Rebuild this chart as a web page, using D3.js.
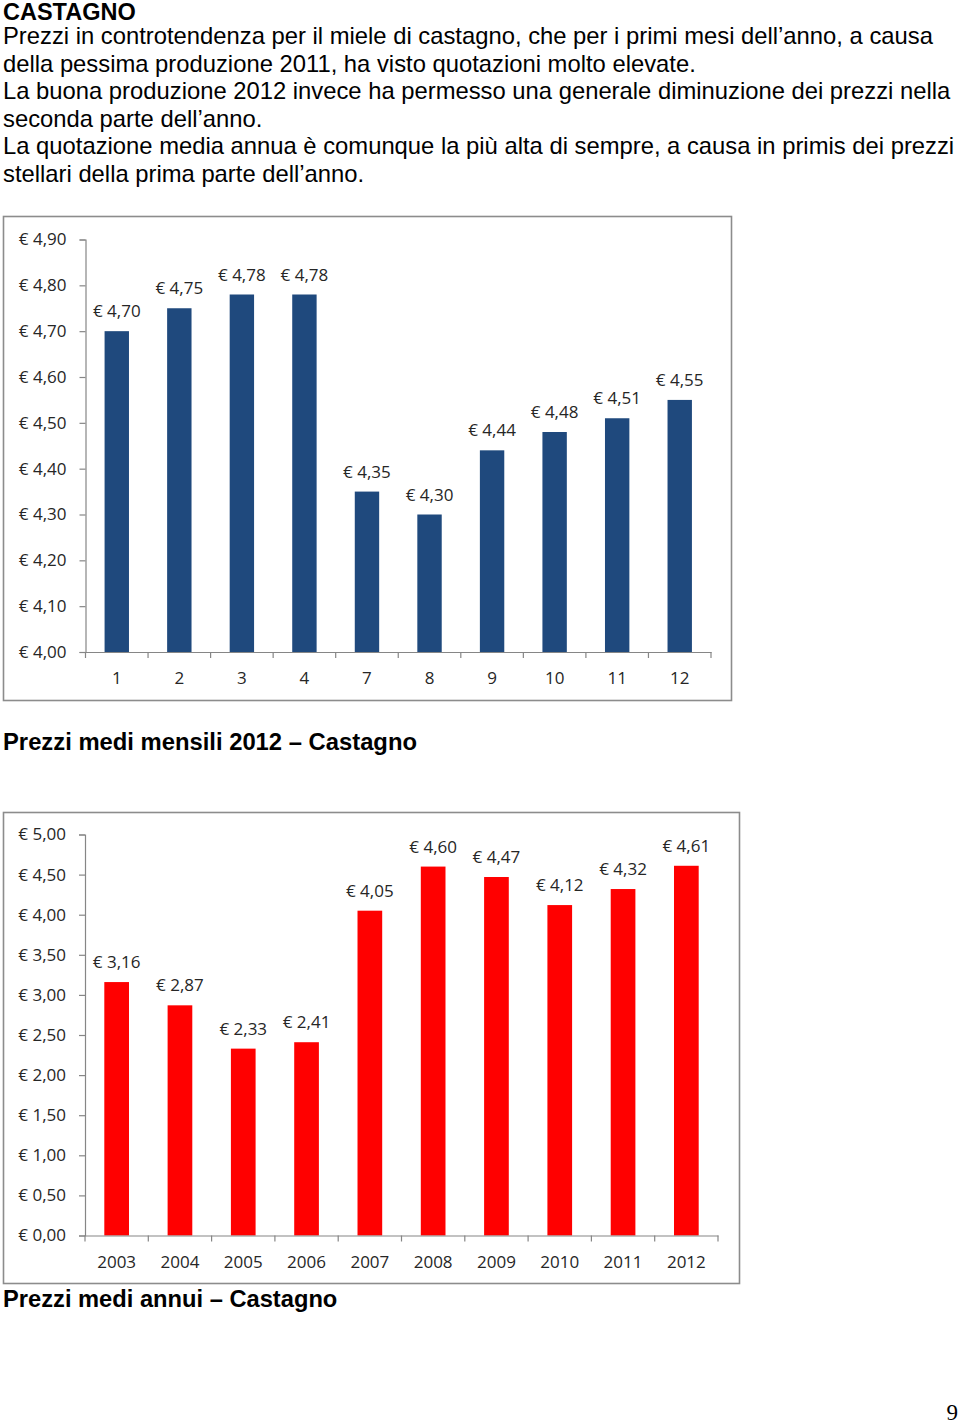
<!DOCTYPE html>
<html>
<head>
<meta charset="utf-8">
<script src="https://cdn.jsdelivr.net/npm/d3@7"></script>
<style>
html,body{margin:0;padding:0;background:#fff;}
svg{display:block;}
</style>
</head>
<body>
<svg id="page" width="960" height="1425"></svg>
<script>
// ---------- data ----------
const monthCategories = ["1","2","3","4","7","8","9","10","11","12"];
const monthValues = [4.70, 4.75, 4.78, 4.78, 4.35, 4.30, 4.44, 4.48, 4.51, 4.55];
const monthTicks = [4.00, 4.10, 4.20, 4.30, 4.40, 4.50, 4.60, 4.70, 4.80, 4.90];

const yearCategories = ["2003","2004","2005","2006","2007","2008","2009","2010","2011","2012"];
const yearValues = [3.16, 2.87, 2.33, 2.41, 4.05, 4.60, 4.47, 4.12, 4.32, 4.61];
const yearTicks = [0.00, 0.50, 1.00, 1.50, 2.00, 2.50, 3.00, 3.50, 4.00, 4.50, 5.00];

const titleText = "CASTAGNO";
const bodyLines = [
  "Prezzi in controtendenza per il miele di castagno, che per i primi mesi dell\u2019anno, a causa",
  "della pessima produzione 2011, ha visto quotazioni molto elevate.",
  "La buona produzione 2012 invece ha permesso una generale diminuzione dei prezzi nella",
  "seconda parte dell\u2019anno.",
  "La quotazione media annua \u00e8 comunque la pi\u00f9 alta di sempre, a causa in primis dei prezzi",
  "stellari della prima parte dell\u2019anno."
];
const caption1 = "Prezzi medi mensili 2012 \u2013 Castagno";
const caption2 = "Prezzi medi annui \u2013 Castagno";
const pageNumber = "9";

// ---------- page ----------
const svg = d3.select("#page");
svg.append("rect").attr("width",960).attr("height",1425).attr("fill","#fff");

const textFont = "'Liberation Sans', Arial, Helvetica, sans-serif";
const chartFont = "'Open Sans', 'Noto Sans', sans-serif";

svg.append("text").attr("x",3).attr("y",19.5)
  .attr("font-family",textFont).attr("font-weight","bold").attr("font-size",23.5)
  .attr("fill","#000").text(titleText);

svg.selectAll("text.body").data(bodyLines).enter().append("text")
  .attr("class","body")
  .attr("x",3).attr("y",(d,i)=>44.2 + i*27.5)
  .attr("font-family",textFont).attr("font-size",23.8).attr("fill","#000")
  .text(d=>d);

svg.append("text").attr("x",3).attr("y",750)
  .attr("font-family",textFont).attr("font-weight","bold").attr("font-size",23.8)
  .attr("fill","#000").text(caption1);
svg.append("text").attr("x",3).attr("y",1307)
  .attr("font-family",textFont).attr("font-weight","bold").attr("font-size",23.7)
  .attr("fill","#000").text(caption2);

svg.append("text").attr("x",958).attr("y",1420).attr("text-anchor","end")
  .attr("font-family","'Liberation Serif','DejaVu Serif',serif").attr("font-size",23)
  .attr("fill","#000").text(pageNumber);

const euro = v => "\u20ac " + v.toFixed(2).replace(".", ",");

function drawChart(opt){
  const g = svg.append("g");
  // frame
  g.append("rect").attr("x",opt.frame[0]).attr("y",opt.frame[1])
    .attr("width",opt.frame[2]).attr("height",opt.frame[3])
    .attr("fill","#fff").attr("stroke","#8c8c8c").attr("stroke-width",1.6);

  const x = d3.scaleBand().domain(opt.cats).range(opt.xRange)
    .paddingInner(0.61).paddingOuter(0.305);
  const y = d3.scaleLinear().domain(opt.yDomain).range(opt.yRange);

  // bars
  g.selectAll("rect.bar").data(opt.vals).enter().append("rect")
    .attr("class","bar")
    .attr("x",(d,i)=>x(opt.cats[i]))
    .attr("width",x.bandwidth())
    .attr("y",d=>y(d))
    .attr("height",d=>y(opt.yDomain[0]) - y(d))
    .attr("fill",opt.color);

  // value labels
  g.selectAll("text.val").data(opt.vals).enter().append("text")
    .attr("class","val")
    .attr("x",(d,i)=>x(opt.cats[i]) + x.bandwidth()/2)
    .attr("y",d=>y(d) - 14)
    .attr("text-anchor","middle")
    .attr("font-family",chartFont).attr("font-size",17).attr("fill","#262626")
    .text(d=>euro(d));

  // y axis
  const yAxis = d3.axisLeft(y).tickValues(opt.ticks).tickSize(6).tickPadding(13)
    .tickFormat(d=>euro(d));
  const ya = g.append("g").attr("transform",`translate(${opt.xRange[0]},0)`).call(yAxis);
  ya.select(".domain").attr("stroke","#868686").attr("stroke-width",1.2);
  ya.selectAll(".tick line").attr("stroke","#868686").attr("stroke-width",1.2);
  ya.selectAll(".tick text").attr("font-family",chartFont).attr("font-size",17).attr("fill","#262626");

  // x axis
  const xAxis = d3.axisBottom(x).tickSize(0).tickPadding(20);
  const xa = g.append("g").attr("transform",`translate(0,${opt.yRange[0]})`).call(xAxis);
  xa.select(".domain").attr("stroke","#868686").attr("stroke-width",1.2);
  xa.selectAll(".tick text").attr("font-family",chartFont).attr("font-size",17).attr("fill","#262626");
  // category separator tick marks
  const step = x.step();
  const bounds = d3.range(opt.cats.length + 1).map(i => opt.xRange[0] + i*step);
  xa.selectAll("line.sep").data(bounds).enter().append("line")
    .attr("class","sep")
    .attr("x1",d=>d).attr("x2",d=>d).attr("y1",0).attr("y2",6)
    .attr("stroke","#868686").attr("stroke-width",1.2);
}

drawChart({
  frame:[3.5,216.5,728,484],
  cats:monthCategories, vals:monthValues, ticks:monthTicks,
  xRange:[85.5,711], yDomain:[4.0,4.9], yRange:[652,239.5],
  color:"#1F497D"
});

drawChart({
  frame:[3.5,812.5,736,471],
  cats:yearCategories, vals:yearValues, ticks:yearTicks,
  xRange:[85,718], yDomain:[0,5], yRange:[1235.5,834.5],
  color:"#FF0000"
});
</script>
</body>
</html>
